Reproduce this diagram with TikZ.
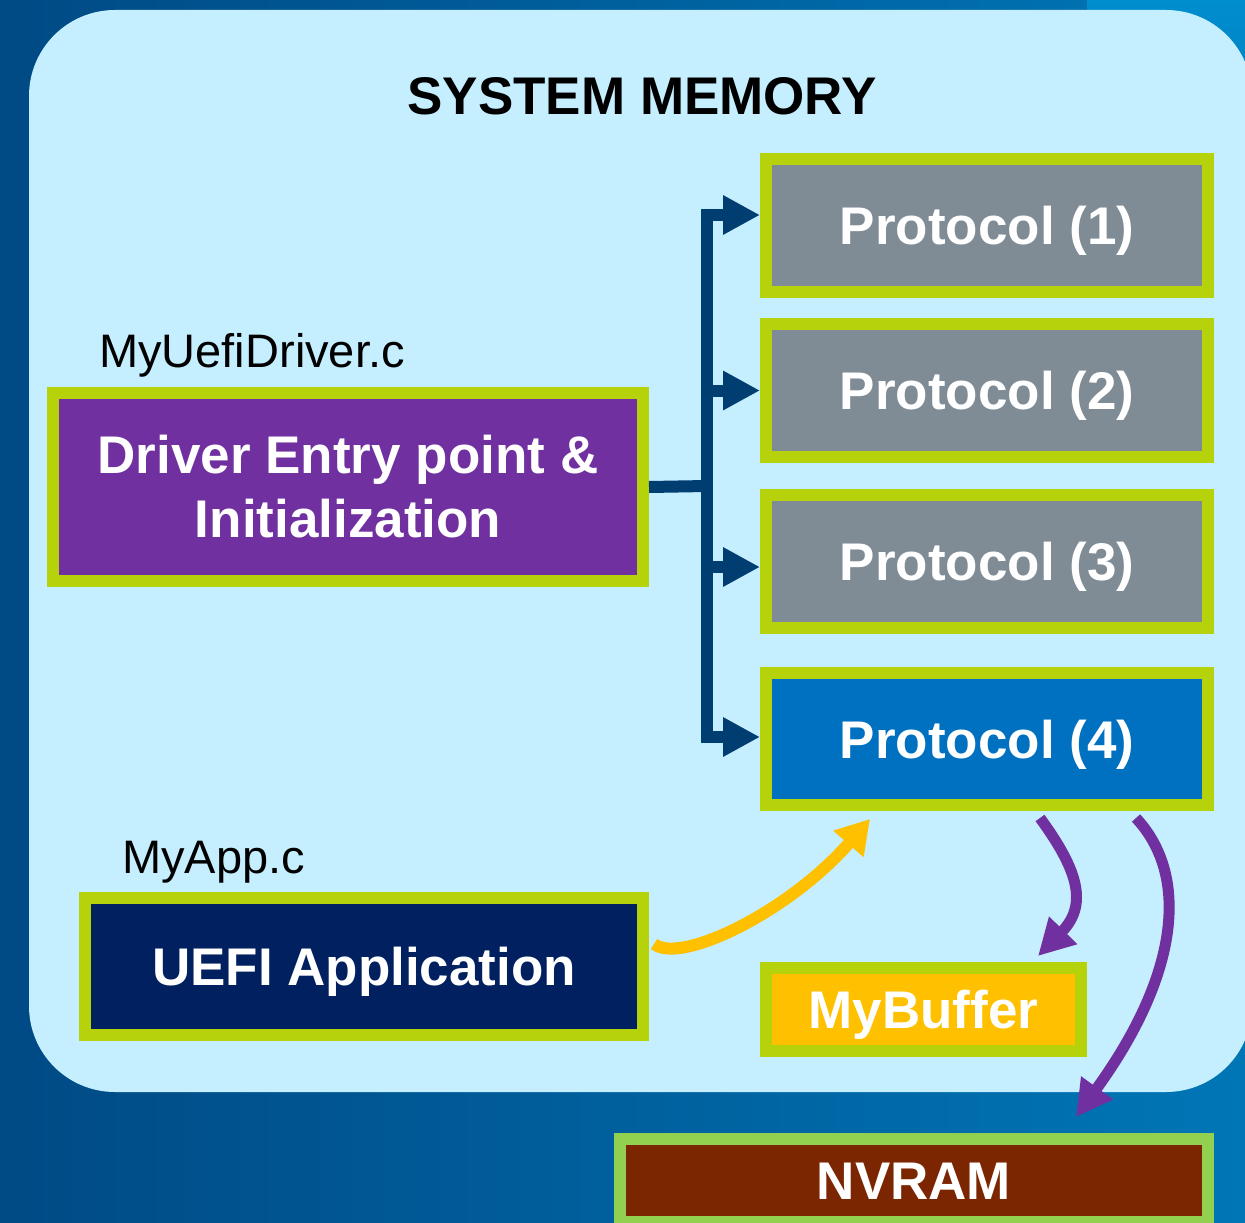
\documentclass[tikz,border=0pt]{standalone}
\usepackage{fontspec}
\setmainfont{Liberation Sans}
\usetikzlibrary{arrows.meta,calc}

\definecolor{bgdark}{HTML}{004A85}
\definecolor{bglight}{HTML}{0076B6}
\definecolor{bgtop}{HTML}{008ECF}
\definecolor{panel}{HTML}{C5EEFF}
\definecolor{rim}{HTML}{B5D20A}
\definecolor{rimnv}{HTML}{92D050}
\definecolor{protogray}{HTML}{7F8B95}
\definecolor{protoblue}{HTML}{0070C0}
\definecolor{drvpurple}{HTML}{7030A0}
\definecolor{appnavy}{HTML}{002060}
\definecolor{bufgold}{HTML}{FFC000}
\definecolor{nvbrown}{HTML}{7B2600}
\definecolor{busblue}{HTML}{003D71}

\tikzset{
  box/.style={draw=rim, line width=12pt, inner sep=0pt, text=white,
    font=\bfseries\fontsize{53}{64}\selectfont, align=center},
  oneline/.style={text height=38pt, text depth=0pt},
  pbox/.style={box, oneline, minimum width=442pt, minimum height=133pt},
  filelabel/.style={font=\fontsize{47}{56}\selectfont, anchor=base west, inner sep=0pt},
  heading/.style={font=\bfseries\fontsize{53}{64}\selectfont, inner sep=0pt, oneline},
  bus/.style={draw=busblue, line width=12pt},
  bustip/.style={-{Triangle[length=37pt,width=37pt]}},
  yarrow/.style={draw=bufgold, line width=12pt, -{Triangle[length=33pt,width=38pt]}},
  parrow/.style={draw=drvpurple, line width=11pt, -{Triangle[length=36pt,width=37pt]}}
}

\begin{document}
\begin{tikzpicture}[x=1pt,y=-1pt]
\useasboundingbox (0,0) rectangle (1245,1223);
\clip (0,0) rectangle (1245,1223);

% backdrop and memory panel
\shade[left color=bgdark, right color=bglight] (0,0) rectangle (1245,1223);
\shade[top color=bgtop, bottom color=bglight] (1087,0) rectangle (1245,180);
\fill[panel, rounded corners=86pt] (29,10) rectangle (1252,1092);

\node[heading] (title) at (642,95) {SYSTEM MEMORY};

% protocols installed by the driver
\node[pbox, fill=protogray] (p1) at (987,225.5) {Protocol (1)};
\node[pbox, fill=protogray] (p2) at (987,390.5) {Protocol (2)};
\node[pbox, fill=protogray] (p3) at (987,561.5) {Protocol (3)};
\node[pbox, fill=protoblue, minimum height=132pt] (p4) at (987,739) {Protocol (4)};

% driver
\node[filelabel] (drvlabel) at (99,367) {MyUefiDriver.c};
\node[box, fill=drvpurple, minimum width=590pt, minimum height=188pt] (drv) at (348,487)
  {Driver Entry point \&\\Initialization};

% application
\node[filelabel] (applabel) at (122,873) {MyApp.c};
\node[box, oneline, fill=appnavy, minimum width=558pt, minimum height=137pt] (app) at (364,966.5)
  {UEFI Application};

% buffer and NVRAM
\node[box, oneline, fill=bufgold, minimum width=315pt, minimum height=83pt] (buf) at (923.5,1009.5)
  {MyBuffer};
\node[box, oneline, draw=rimnv, fill=nvbrown, minimum width=588pt, minimum height=83pt] (nvram) at (914,1180.5)
  {NVRAM};

% bus from the driver to the protocols
\coordinate (j1) at (707,215);
\coordinate (j2) at (707,390.5);
\coordinate (jm) at (707,486);
\coordinate (j3) at (707,567);
\coordinate (j4) at (707,737);
\draw[bus, {Triangle[length=37pt,width=37pt]}-{Triangle[length=37pt,width=37pt]}]
  (j1 -| p1.west) -- (j1) -- (j4) -- (j4 -| p4.west);
\draw[bus] (drv.east) -- (jm);
\draw[bus, bustip] (j2) -- (j2 -| p2.west);
\draw[bus, bustip] (j3) -- (j3 -| p3.west);

% application calls protocol (4)
\draw[yarrow] ($(app.east)+(5,-22.5)$) .. controls +(27,21) and +(-80,92) .. ($(p4.south)+(-117,8)$);

% protocol (4) writes to the buffer and to NVRAM
\draw[parrow] ($(p4.south)+(53,7)$) .. controls +(35,48) and +(52,-53) .. ($(buf.north)+(114.5,-6)$);
\draw[parrow] ($(p4.south)+(149,7)$) .. controls +(54,58) and +(103,-142) .. ($(nvram.north)+(162,-16)$);
\end{tikzpicture}
\end{document}
